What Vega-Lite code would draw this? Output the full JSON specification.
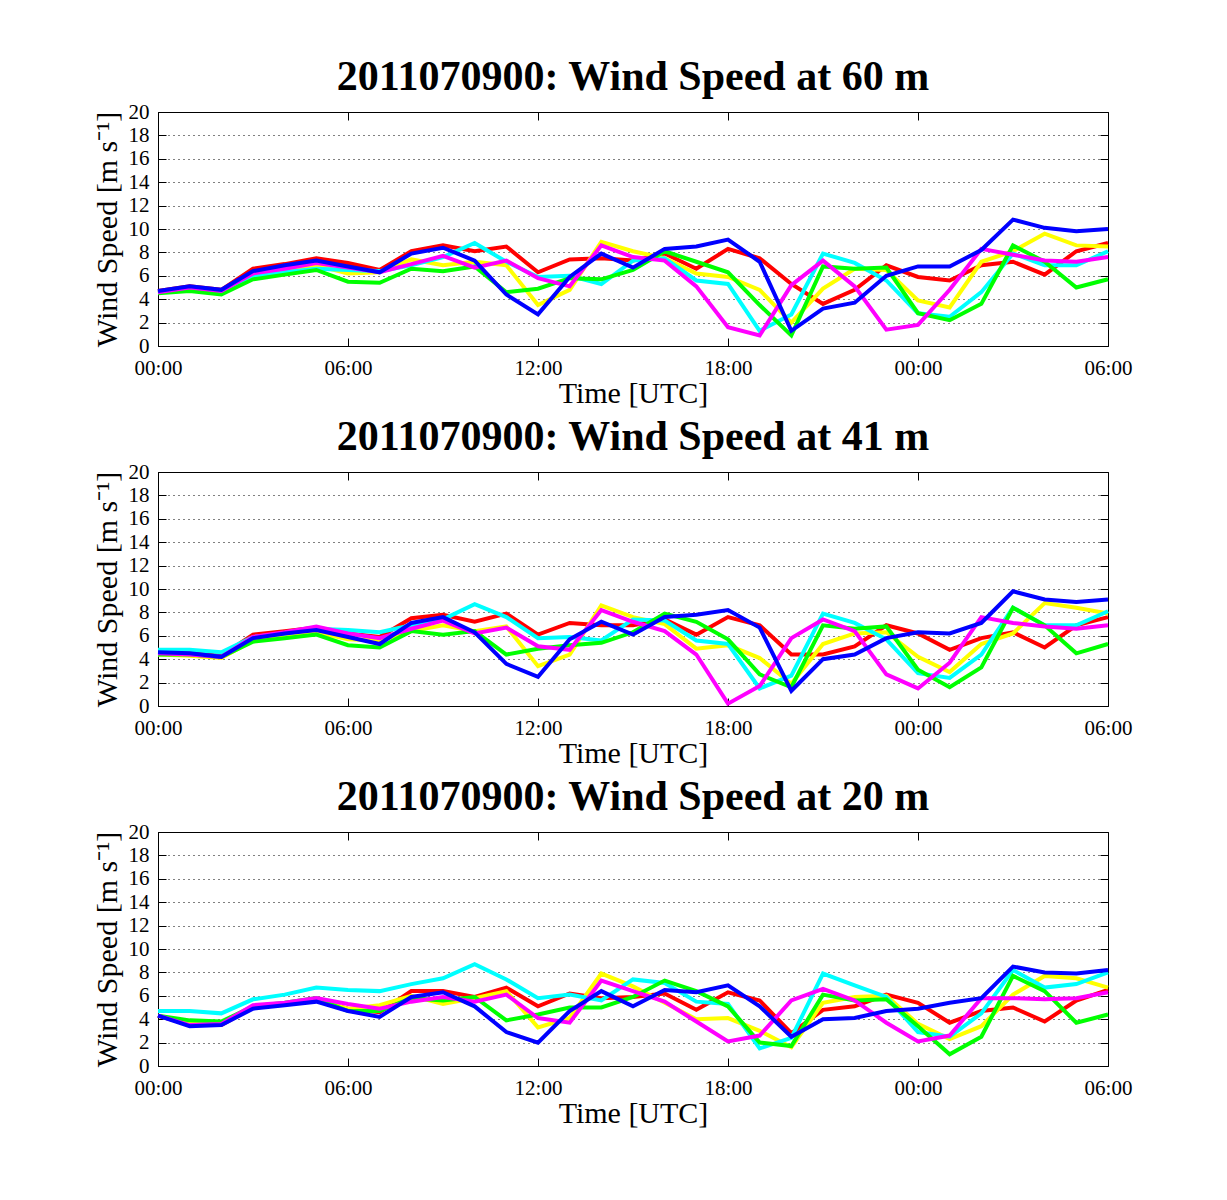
{
"$schema": "https://vega.github.io/schema/vega-lite/v6.json",
"background": "white",
"padding": {"left": 91, "top": 55, "right": 10, "bottom": 10},
"spacing": 6,
"config": {
  "font": "Liberation Serif",
  "view": {"stroke": "black", "strokeWidth": 1},
  "title": {"font": "Liberation Serif", "fontSize": 42, "fontWeight": "bold", "color": "black", "baseline": "alphabetic", "offset": 2, "anchor": "middle"},
  "axis": {"labelFont": "Liberation Serif", "labelFontSize": 21, "labelColor": "black", "titleFont": "Liberation Serif", "titleFontSize": 30, "titleFontWeight": "normal", "titleColor": "black", "tickColor": "black", "domainColor": "black", "gridColor": "black", "gridOpacity": 1, "gridWidth": 1, "gridDash": [1, 4], "labelOverlap": false}
},
"datasets": {
"w60": [
{"t":0,"s":"r","v":4.7},{"t":1,"s":"r","v":5.1},{"t":2,"s":"r","v":4.8},{"t":3,"s":"r","v":6.6},{"t":4,"s":"r","v":7.0},{"t":5,"s":"r","v":7.5},{"t":6,"s":"r","v":7.1},{"t":7,"s":"r","v":6.5},{"t":8,"s":"r","v":8.1},{"t":9,"s":"r","v":8.6},{"t":10,"s":"r","v":8.1},{"t":11,"s":"r","v":8.5},{"t":12,"s":"r","v":6.3},{"t":13,"s":"r","v":7.4},{"t":14,"s":"r","v":7.5},{"t":15,"s":"r","v":7.3},{"t":16,"s":"r","v":7.9},{"t":17,"s":"r","v":6.6},{"t":18,"s":"r","v":8.3},{"t":19,"s":"r","v":7.5},{"t":20,"s":"r","v":5.3},{"t":21,"s":"r","v":3.6},{"t":22,"s":"r","v":4.8},{"t":23,"s":"r","v":6.9},{"t":24,"s":"r","v":5.9},{"t":25,"s":"r","v":5.6},{"t":26,"s":"r","v":6.9},{"t":27,"s":"r","v":7.2},{"t":28,"s":"r","v":6.1},{"t":29,"s":"r","v":8.1},{"t":30,"s":"r","v":8.8},
{"t":0,"s":"y","v":4.6},{"t":1,"s":"y","v":4.9},{"t":2,"s":"y","v":4.6},{"t":3,"s":"y","v":6.0},{"t":4,"s":"y","v":6.4},{"t":5,"s":"y","v":6.9},{"t":6,"s":"y","v":6.2},{"t":7,"s":"y","v":6.3},{"t":8,"s":"y","v":7.4},{"t":9,"s":"y","v":6.9},{"t":10,"s":"y","v":7.2},{"t":11,"s":"y","v":6.9},{"t":12,"s":"y","v":3.5},{"t":13,"s":"y","v":4.8},{"t":14,"s":"y","v":8.9},{"t":15,"s":"y","v":8.1},{"t":16,"s":"y","v":7.5},{"t":17,"s":"y","v":6.2},{"t":18,"s":"y","v":5.9},{"t":19,"s":"y","v":4.8},{"t":20,"s":"y","v":2.0},{"t":21,"s":"y","v":4.9},{"t":22,"s":"y","v":6.6},{"t":23,"s":"y","v":6.5},{"t":24,"s":"y","v":3.9},{"t":25,"s":"y","v":3.3},{"t":26,"s":"y","v":7.2},{"t":27,"s":"y","v":8.1},{"t":28,"s":"y","v":9.6},{"t":29,"s":"y","v":8.6},{"t":30,"s":"y","v":8.5},
{"t":0,"s":"c","v":4.6},{"t":1,"s":"c","v":5.0},{"t":2,"s":"c","v":4.6},{"t":3,"s":"c","v":5.9},{"t":4,"s":"c","v":6.3},{"t":5,"s":"c","v":6.6},{"t":6,"s":"c","v":6.5},{"t":7,"s":"c","v":6.4},{"t":8,"s":"c","v":6.9},{"t":9,"s":"c","v":7.6},{"t":10,"s":"c","v":8.8},{"t":11,"s":"c","v":7.2},{"t":12,"s":"c","v":5.9},{"t":13,"s":"c","v":6.0},{"t":14,"s":"c","v":5.3},{"t":15,"s":"c","v":7.3},{"t":16,"s":"c","v":7.5},{"t":17,"s":"c","v":5.6},{"t":18,"s":"c","v":5.3},{"t":19,"s":"c","v":1.3},{"t":20,"s":"c","v":2.7},{"t":21,"s":"c","v":7.9},{"t":22,"s":"c","v":7.1},{"t":23,"s":"c","v":5.6},{"t":24,"s":"c","v":2.8},{"t":25,"s":"c","v":2.5},{"t":26,"s":"c","v":4.6},{"t":27,"s":"c","v":7.9},{"t":28,"s":"c","v":6.9},{"t":29,"s":"c","v":6.9},{"t":30,"s":"c","v":8.1},
{"t":0,"s":"g","v":4.5},{"t":1,"s":"g","v":4.7},{"t":2,"s":"g","v":4.4},{"t":3,"s":"g","v":5.7},{"t":4,"s":"g","v":6.1},{"t":5,"s":"g","v":6.5},{"t":6,"s":"g","v":5.5},{"t":7,"s":"g","v":5.4},{"t":8,"s":"g","v":6.6},{"t":9,"s":"g","v":6.4},{"t":10,"s":"g","v":6.8},{"t":11,"s":"g","v":4.6},{"t":12,"s":"g","v":4.9},{"t":13,"s":"g","v":5.8},{"t":14,"s":"g","v":5.7},{"t":15,"s":"g","v":6.5},{"t":16,"s":"g","v":8.1},{"t":17,"s":"g","v":7.2},{"t":18,"s":"g","v":6.3},{"t":19,"s":"g","v":3.5},{"t":20,"s":"g","v":0.9},{"t":21,"s":"g","v":6.8},{"t":22,"s":"g","v":6.6},{"t":23,"s":"g","v":6.7},{"t":24,"s":"g","v":2.8},{"t":25,"s":"g","v":2.2},{"t":26,"s":"g","v":3.6},{"t":27,"s":"g","v":8.6},{"t":28,"s":"g","v":7.2},{"t":29,"s":"g","v":5.0},{"t":30,"s":"g","v":5.7},
{"t":0,"s":"m","v":4.6},{"t":1,"s":"m","v":5.0},{"t":2,"s":"m","v":4.7},{"t":3,"s":"m","v":6.2},{"t":4,"s":"m","v":6.6},{"t":5,"s":"m","v":7.1},{"t":6,"s":"m","v":6.7},{"t":7,"s":"m","v":6.3},{"t":8,"s":"m","v":7.0},{"t":9,"s":"m","v":7.7},{"t":10,"s":"m","v":6.7},{"t":11,"s":"m","v":7.3},{"t":12,"s":"m","v":5.8},{"t":13,"s":"m","v":5.1},{"t":14,"s":"m","v":8.6},{"t":15,"s":"m","v":7.6},{"t":16,"s":"m","v":7.3},{"t":17,"s":"m","v":5.1},{"t":18,"s":"m","v":1.6},{"t":19,"s":"m","v":0.9},{"t":20,"s":"m","v":5.2},{"t":21,"s":"m","v":7.3},{"t":22,"s":"m","v":5.1},{"t":23,"s":"m","v":1.4},{"t":24,"s":"m","v":1.8},{"t":25,"s":"m","v":4.8},{"t":26,"s":"m","v":8.3},{"t":27,"s":"m","v":7.8},{"t":28,"s":"m","v":7.3},{"t":29,"s":"m","v":7.2},{"t":30,"s":"m","v":7.6},
{"t":0,"s":"b","v":4.7},{"t":1,"s":"b","v":5.1},{"t":2,"s":"b","v":4.8},{"t":3,"s":"b","v":6.4},{"t":4,"s":"b","v":6.9},{"t":5,"s":"b","v":7.3},{"t":6,"s":"b","v":6.8},{"t":7,"s":"b","v":6.3},{"t":8,"s":"b","v":7.9},{"t":9,"s":"b","v":8.4},{"t":10,"s":"b","v":7.3},{"t":11,"s":"b","v":4.4},{"t":12,"s":"b","v":2.7},{"t":13,"s":"b","v":5.9},{"t":14,"s":"b","v":7.9},{"t":15,"s":"b","v":6.7},{"t":16,"s":"b","v":8.3},{"t":17,"s":"b","v":8.5},{"t":18,"s":"b","v":9.1},{"t":19,"s":"b","v":7.2},{"t":20,"s":"b","v":1.3},{"t":21,"s":"b","v":3.2},{"t":22,"s":"b","v":3.7},{"t":23,"s":"b","v":6.0},{"t":24,"s":"b","v":6.8},{"t":25,"s":"b","v":6.8},{"t":26,"s":"b","v":8.2},{"t":27,"s":"b","v":10.8},{"t":28,"s":"b","v":10.1},{"t":29,"s":"b","v":9.8},{"t":30,"s":"b","v":10.0}
],
"w41": [
{"t":0,"s":"r","v":4.5},{"t":1,"s":"r","v":4.5},{"t":2,"s":"r","v":4.3},{"t":3,"s":"r","v":6.1},{"t":4,"s":"r","v":6.4},{"t":5,"s":"r","v":6.7},{"t":6,"s":"r","v":6.2},{"t":7,"s":"r","v":5.9},{"t":8,"s":"r","v":7.5},{"t":9,"s":"r","v":7.8},{"t":10,"s":"r","v":7.2},{"t":11,"s":"r","v":7.9},{"t":12,"s":"r","v":6.1},{"t":13,"s":"r","v":7.1},{"t":14,"s":"r","v":6.9},{"t":15,"s":"r","v":6.9},{"t":16,"s":"r","v":7.4},{"t":17,"s":"r","v":6.1},{"t":18,"s":"r","v":7.6},{"t":19,"s":"r","v":6.9},{"t":20,"s":"r","v":4.4},{"t":21,"s":"r","v":4.4},{"t":22,"s":"r","v":5.1},{"t":23,"s":"r","v":6.9},{"t":24,"s":"r","v":6.2},{"t":25,"s":"r","v":4.8},{"t":26,"s":"r","v":5.8},{"t":27,"s":"r","v":6.3},{"t":28,"s":"r","v":5.0},{"t":29,"s":"r","v":6.9},{"t":30,"s":"r","v":7.6},
{"t":0,"s":"y","v":4.4},{"t":1,"s":"y","v":4.3},{"t":2,"s":"y","v":4.1},{"t":3,"s":"y","v":5.6},{"t":4,"s":"y","v":6.0},{"t":5,"s":"y","v":6.3},{"t":6,"s":"y","v":5.7},{"t":7,"s":"y","v":5.6},{"t":8,"s":"y","v":6.4},{"t":9,"s":"y","v":6.9},{"t":10,"s":"y","v":6.4},{"t":11,"s":"y","v":6.8},{"t":12,"s":"y","v":3.4},{"t":13,"s":"y","v":4.4},{"t":14,"s":"y","v":8.6},{"t":15,"s":"y","v":7.6},{"t":16,"s":"y","v":7.0},{"t":17,"s":"y","v":4.9},{"t":18,"s":"y","v":5.2},{"t":19,"s":"y","v":4.1},{"t":20,"s":"y","v":1.9},{"t":21,"s":"y","v":5.3},{"t":22,"s":"y","v":6.2},{"t":23,"s":"y","v":6.3},{"t":24,"s":"y","v":4.2},{"t":25,"s":"y","v":2.9},{"t":26,"s":"y","v":5.3},{"t":27,"s":"y","v":6.2},{"t":28,"s":"y","v":8.8},{"t":29,"s":"y","v":8.4},{"t":30,"s":"y","v":7.9},
{"t":0,"s":"c","v":4.8},{"t":1,"s":"c","v":4.8},{"t":2,"s":"c","v":4.6},{"t":3,"s":"c","v":5.9},{"t":4,"s":"c","v":6.2},{"t":5,"s":"c","v":6.6},{"t":6,"s":"c","v":6.5},{"t":7,"s":"c","v":6.3},{"t":8,"s":"c","v":6.9},{"t":9,"s":"c","v":7.4},{"t":10,"s":"c","v":8.7},{"t":11,"s":"c","v":7.6},{"t":12,"s":"c","v":5.8},{"t":13,"s":"c","v":5.9},{"t":14,"s":"c","v":5.6},{"t":15,"s":"c","v":7.4},{"t":16,"s":"c","v":7.3},{"t":17,"s":"c","v":5.6},{"t":18,"s":"c","v":5.3},{"t":19,"s":"c","v":1.5},{"t":20,"s":"c","v":2.6},{"t":21,"s":"c","v":7.9},{"t":22,"s":"c","v":7.1},{"t":23,"s":"c","v":5.7},{"t":24,"s":"c","v":2.8},{"t":25,"s":"c","v":2.4},{"t":26,"s":"c","v":4.4},{"t":27,"s":"c","v":8.4},{"t":28,"s":"c","v":6.9},{"t":29,"s":"c","v":6.9},{"t":30,"s":"c","v":8.1},
{"t":0,"s":"g","v":4.4},{"t":1,"s":"g","v":4.4},{"t":2,"s":"g","v":4.2},{"t":3,"s":"g","v":5.5},{"t":4,"s":"g","v":5.8},{"t":5,"s":"g","v":6.1},{"t":6,"s":"g","v":5.2},{"t":7,"s":"g","v":5.0},{"t":8,"s":"g","v":6.4},{"t":9,"s":"g","v":6.1},{"t":10,"s":"g","v":6.4},{"t":11,"s":"g","v":4.4},{"t":12,"s":"g","v":4.9},{"t":13,"s":"g","v":5.2},{"t":14,"s":"g","v":5.4},{"t":15,"s":"g","v":6.3},{"t":16,"s":"g","v":7.9},{"t":17,"s":"g","v":7.2},{"t":18,"s":"g","v":5.7},{"t":19,"s":"g","v":2.7},{"t":20,"s":"g","v":1.6},{"t":21,"s":"g","v":6.9},{"t":22,"s":"g","v":6.6},{"t":23,"s":"g","v":6.8},{"t":24,"s":"g","v":3.1},{"t":25,"s":"g","v":1.6},{"t":26,"s":"g","v":3.3},{"t":27,"s":"g","v":8.4},{"t":28,"s":"g","v":6.9},{"t":29,"s":"g","v":4.5},{"t":30,"s":"g","v":5.3},
{"t":0,"s":"m","v":4.5},{"t":1,"s":"m","v":4.4},{"t":2,"s":"m","v":4.2},{"t":3,"s":"m","v":5.9},{"t":4,"s":"m","v":6.3},{"t":5,"s":"m","v":6.8},{"t":6,"s":"m","v":6.2},{"t":7,"s":"m","v":5.8},{"t":8,"s":"m","v":6.6},{"t":9,"s":"m","v":7.3},{"t":10,"s":"m","v":6.2},{"t":11,"s":"m","v":6.7},{"t":12,"s":"m","v":5.1},{"t":13,"s":"m","v":4.8},{"t":14,"s":"m","v":8.2},{"t":15,"s":"m","v":7.2},{"t":16,"s":"m","v":6.4},{"t":17,"s":"m","v":4.4},{"t":18,"s":"m","v":0.2},{"t":19,"s":"m","v":1.7},{"t":20,"s":"m","v":5.8},{"t":21,"s":"m","v":7.4},{"t":22,"s":"m","v":6.4},{"t":23,"s":"m","v":2.7},{"t":24,"s":"m","v":1.5},{"t":25,"s":"m","v":3.7},{"t":26,"s":"m","v":7.6},{"t":27,"s":"m","v":7.1},{"t":28,"s":"m","v":6.8},{"t":29,"s":"m","v":6.6},{"t":30,"s":"m","v":6.9},
{"t":0,"s":"b","v":4.6},{"t":1,"s":"b","v":4.5},{"t":2,"s":"b","v":4.2},{"t":3,"s":"b","v":5.8},{"t":4,"s":"b","v":6.2},{"t":5,"s":"b","v":6.5},{"t":6,"s":"b","v":5.9},{"t":7,"s":"b","v":5.3},{"t":8,"s":"b","v":7.1},{"t":9,"s":"b","v":7.6},{"t":10,"s":"b","v":6.3},{"t":11,"s":"b","v":3.6},{"t":12,"s":"b","v":2.5},{"t":13,"s":"b","v":5.7},{"t":14,"s":"b","v":7.2},{"t":15,"s":"b","v":6.1},{"t":16,"s":"b","v":7.6},{"t":17,"s":"b","v":7.8},{"t":18,"s":"b","v":8.2},{"t":19,"s":"b","v":6.7},{"t":20,"s":"b","v":1.3},{"t":21,"s":"b","v":4.0},{"t":22,"s":"b","v":4.4},{"t":23,"s":"b","v":5.8},{"t":24,"s":"b","v":6.3},{"t":25,"s":"b","v":6.2},{"t":26,"s":"b","v":7.1},{"t":27,"s":"b","v":9.8},{"t":28,"s":"b","v":9.1},{"t":29,"s":"b","v":8.9},{"t":30,"s":"b","v":9.1}
],
"w20": [
{"t":0,"s":"r","v":4.3},{"t":1,"s":"r","v":3.5},{"t":2,"s":"r","v":3.5},{"t":3,"s":"r","v":5.0},{"t":4,"s":"r","v":5.3},{"t":5,"s":"r","v":5.6},{"t":6,"s":"r","v":4.9},{"t":7,"s":"r","v":4.6},{"t":8,"s":"r","v":6.4},{"t":9,"s":"r","v":6.4},{"t":10,"s":"r","v":5.9},{"t":11,"s":"r","v":6.7},{"t":12,"s":"r","v":5.1},{"t":13,"s":"r","v":6.2},{"t":14,"s":"r","v":5.8},{"t":15,"s":"r","v":5.9},{"t":16,"s":"r","v":6.2},{"t":17,"s":"r","v":4.8},{"t":18,"s":"r","v":6.3},{"t":19,"s":"r","v":5.6},{"t":20,"s":"r","v":2.8},{"t":21,"s":"r","v":4.8},{"t":22,"s":"r","v":5.1},{"t":23,"s":"r","v":6.1},{"t":24,"s":"r","v":5.4},{"t":25,"s":"r","v":3.7},{"t":26,"s":"r","v":4.7},{"t":27,"s":"r","v":5.0},{"t":28,"s":"r","v":3.8},{"t":29,"s":"r","v":5.6},{"t":30,"s":"r","v":6.5},
{"t":0,"s":"y","v":4.3},{"t":1,"s":"y","v":3.6},{"t":2,"s":"y","v":3.6},{"t":3,"s":"y","v":5.0},{"t":4,"s":"y","v":5.3},{"t":5,"s":"y","v":5.6},{"t":6,"s":"y","v":4.9},{"t":7,"s":"y","v":5.2},{"t":8,"s":"y","v":6.0},{"t":9,"s":"y","v":5.3},{"t":10,"s":"y","v":5.8},{"t":11,"s":"y","v":6.4},{"t":12,"s":"y","v":3.3},{"t":13,"s":"y","v":4.1},{"t":14,"s":"y","v":7.9},{"t":15,"s":"y","v":6.8},{"t":16,"s":"y","v":5.4},{"t":17,"s":"y","v":4.0},{"t":18,"s":"y","v":4.1},{"t":19,"s":"y","v":3.0},{"t":20,"s":"y","v":1.6},{"t":21,"s":"y","v":5.4},{"t":22,"s":"y","v":5.9},{"t":23,"s":"y","v":6.0},{"t":24,"s":"y","v":3.6},{"t":25,"s":"y","v":2.3},{"t":26,"s":"y","v":3.4},{"t":27,"s":"y","v":6.1},{"t":28,"s":"y","v":7.7},{"t":29,"s":"y","v":7.5},{"t":30,"s":"y","v":6.7},
{"t":0,"s":"c","v":4.7},{"t":1,"s":"c","v":4.7},{"t":2,"s":"c","v":4.5},{"t":3,"s":"c","v":5.7},{"t":4,"s":"c","v":6.1},{"t":5,"s":"c","v":6.7},{"t":6,"s":"c","v":6.5},{"t":7,"s":"c","v":6.4},{"t":8,"s":"c","v":7.0},{"t":9,"s":"c","v":7.5},{"t":10,"s":"c","v":8.7},{"t":11,"s":"c","v":7.4},{"t":12,"s":"c","v":5.8},{"t":13,"s":"c","v":6.1},{"t":14,"s":"c","v":5.6},{"t":15,"s":"c","v":7.4},{"t":16,"s":"c","v":7.1},{"t":17,"s":"c","v":5.5},{"t":18,"s":"c","v":5.3},{"t":19,"s":"c","v":1.5},{"t":20,"s":"c","v":2.4},{"t":21,"s":"c","v":7.9},{"t":22,"s":"c","v":6.9},{"t":23,"s":"c","v":5.9},{"t":24,"s":"c","v":2.9},{"t":25,"s":"c","v":2.5},{"t":26,"s":"c","v":4.5},{"t":27,"s":"c","v":8.2},{"t":28,"s":"c","v":6.7},{"t":29,"s":"c","v":7.0},{"t":30,"s":"c","v":8.0},
{"t":0,"s":"g","v":4.3},{"t":1,"s":"g","v":3.9},{"t":2,"s":"g","v":3.8},{"t":3,"s":"g","v":5.1},{"t":4,"s":"g","v":5.4},{"t":5,"s":"g","v":5.8},{"t":6,"s":"g","v":4.7},{"t":7,"s":"g","v":4.7},{"t":8,"s":"g","v":5.8},{"t":9,"s":"g","v":5.6},{"t":10,"s":"g","v":5.9},{"t":11,"s":"g","v":3.9},{"t":12,"s":"g","v":4.4},{"t":13,"s":"g","v":5.0},{"t":14,"s":"g","v":5.0},{"t":15,"s":"g","v":5.9},{"t":16,"s":"g","v":7.3},{"t":17,"s":"g","v":6.4},{"t":18,"s":"g","v":5.1},{"t":19,"s":"g","v":2.0},{"t":20,"s":"g","v":1.7},{"t":21,"s":"g","v":6.1},{"t":22,"s":"g","v":5.6},{"t":23,"s":"g","v":5.7},{"t":24,"s":"g","v":3.4},{"t":25,"s":"g","v":1.0},{"t":26,"s":"g","v":2.5},{"t":27,"s":"g","v":7.7},{"t":28,"s":"g","v":6.4},{"t":29,"s":"g","v":3.7},{"t":30,"s":"g","v":4.4},
{"t":0,"s":"m","v":4.3},{"t":1,"s":"m","v":3.5},{"t":2,"s":"m","v":3.6},{"t":3,"s":"m","v":5.2},{"t":4,"s":"m","v":5.4},{"t":5,"s":"m","v":5.8},{"t":6,"s":"m","v":5.3},{"t":7,"s":"m","v":4.9},{"t":8,"s":"m","v":5.5},{"t":9,"s":"m","v":5.9},{"t":10,"s":"m","v":5.5},{"t":11,"s":"m","v":6.1},{"t":12,"s":"m","v":4.1},{"t":13,"s":"m","v":3.7},{"t":14,"s":"m","v":7.3},{"t":15,"s":"m","v":6.4},{"t":16,"s":"m","v":5.5},{"t":17,"s":"m","v":3.8},{"t":18,"s":"m","v":2.1},{"t":19,"s":"m","v":2.6},{"t":20,"s":"m","v":5.6},{"t":21,"s":"m","v":6.6},{"t":22,"s":"m","v":5.6},{"t":23,"s":"m","v":3.7},{"t":24,"s":"m","v":2.1},{"t":25,"s":"m","v":2.6},{"t":26,"s":"m","v":5.8},{"t":27,"s":"m","v":5.8},{"t":28,"s":"m","v":5.7},{"t":29,"s":"m","v":5.8},{"t":30,"s":"m","v":6.3},
{"t":0,"s":"b","v":4.3},{"t":1,"s":"b","v":3.4},{"t":2,"s":"b","v":3.5},{"t":3,"s":"b","v":4.9},{"t":4,"s":"b","v":5.2},{"t":5,"s":"b","v":5.5},{"t":6,"s":"b","v":4.7},{"t":7,"s":"b","v":4.2},{"t":8,"s":"b","v":5.9},{"t":9,"s":"b","v":6.3},{"t":10,"s":"b","v":5.1},{"t":11,"s":"b","v":2.9},{"t":12,"s":"b","v":2.0},{"t":13,"s":"b","v":4.7},{"t":14,"s":"b","v":6.4},{"t":15,"s":"b","v":5.1},{"t":16,"s":"b","v":6.5},{"t":17,"s":"b","v":6.3},{"t":18,"s":"b","v":6.9},{"t":19,"s":"b","v":5.1},{"t":20,"s":"b","v":2.5},{"t":21,"s":"b","v":4.0},{"t":22,"s":"b","v":4.1},{"t":23,"s":"b","v":4.7},{"t":24,"s":"b","v":4.9},{"t":25,"s":"b","v":5.4},{"t":26,"s":"b","v":5.8},{"t":27,"s":"b","v":8.5},{"t":28,"s":"b","v":8.0},{"t":29,"s":"b","v":7.9},{"t":30,"s":"b","v":8.2}
]
},
"vconcat": [
{
 "title": "2011070900: Wind Speed at 60 m",
 "width": 950, "height": 234,
 "data": {"name": "w60"},
 "layer": [
  {"mark": {"type": "line", "strokeOpacity": 0},
   "encoding": {
    "x": {"field": "t", "type": "quantitative", "scale": {"domain": [0, 30], "nice": false, "zero": false}, "axis": {"orient": "top", "labels": false, "title": null, "grid": false, "domain": false, "values": [0, 6, 12, 18, 24, 30], "tickSize": -8}},
    "y": {"field": "v", "type": "quantitative", "scale": {"domain": [0, 20], "nice": false}, "axis": {"orient": "right", "labels": false, "title": null, "grid": false, "domain": false, "values": [0, 2, 4, 6, 8, 10, 12, 14, 16, 18, 20], "tickSize": -8}},
    "detail": {"field": "s"}}},
  {"mark": {"type": "line", "strokeWidth": 4},
   "encoding": {
    "x": {"field": "t", "type": "quantitative", "scale": {"domain": [0, 30], "nice": false, "zero": false}, "axis": {"orient": "bottom", "title": "Time [UTC]", "grid": false, "domain": false, "values": [0, 6, 12, 18, 24, 30], "labelExpr": "(datum.value % 24 < 10 ? '0' : '') + (datum.value % 24) + ':00'", "labelFlush": false, "tickSize": -8, "labelPadding": 19, "titlePadding": 0}},
    "y": {"field": "v", "type": "quantitative", "scale": {"domain": [0, 20], "nice": false}, "axis": {"orient": "left", "title": "Wind Speed [m s\u207b\u00b9]", "grid": true, "domain": false, "values": [0, 2, 4, 6, 8, 10, 12, 14, 16, 18, 20], "tickSize": -8, "labelPadding": 17, "titlePadding": 6}},
    "color": {"field": "s", "type": "nominal", "scale": {"domain": ["r", "y", "c", "g", "m", "b"], "range": ["#ff0000", "#ffff00", "#00ffff", "#00ff00", "#ff00ff", "#0000ff"]}, "legend": null}}}
 ],
 "resolve": {"axis": {"x": "independent", "y": "independent"}}
},
{
 "title": "2011070900: Wind Speed at 41 m",
 "width": 950, "height": 234,
 "data": {"name": "w41"},
 "layer": [
  {"mark": {"type": "line", "strokeOpacity": 0},
   "encoding": {
    "x": {"field": "t", "type": "quantitative", "scale": {"domain": [0, 30], "nice": false, "zero": false}, "axis": {"orient": "top", "labels": false, "title": null, "grid": false, "domain": false, "values": [0, 6, 12, 18, 24, 30], "tickSize": -8}},
    "y": {"field": "v", "type": "quantitative", "scale": {"domain": [0, 20], "nice": false}, "axis": {"orient": "right", "labels": false, "title": null, "grid": false, "domain": false, "values": [0, 2, 4, 6, 8, 10, 12, 14, 16, 18, 20], "tickSize": -8}},
    "detail": {"field": "s"}}},
  {"mark": {"type": "line", "strokeWidth": 4},
   "encoding": {
    "x": {"field": "t", "type": "quantitative", "scale": {"domain": [0, 30], "nice": false, "zero": false}, "axis": {"orient": "bottom", "title": "Time [UTC]", "grid": false, "domain": false, "values": [0, 6, 12, 18, 24, 30], "labelExpr": "(datum.value % 24 < 10 ? '0' : '') + (datum.value % 24) + ':00'", "labelFlush": false, "tickSize": -8, "labelPadding": 19, "titlePadding": 0}},
    "y": {"field": "v", "type": "quantitative", "scale": {"domain": [0, 20], "nice": false}, "axis": {"orient": "left", "title": "Wind Speed [m s\u207b\u00b9]", "grid": true, "domain": false, "values": [0, 2, 4, 6, 8, 10, 12, 14, 16, 18, 20], "tickSize": -8, "labelPadding": 17, "titlePadding": 6}},
    "color": {"field": "s", "type": "nominal", "scale": {"domain": ["r", "y", "c", "g", "m", "b"], "range": ["#ff0000", "#ffff00", "#00ffff", "#00ff00", "#ff00ff", "#0000ff"]}, "legend": null}}}
 ],
 "resolve": {"axis": {"x": "independent", "y": "independent"}}
},
{
 "title": "2011070900: Wind Speed at 20 m",
 "width": 950, "height": 234,
 "data": {"name": "w20"},
 "layer": [
  {"mark": {"type": "line", "strokeOpacity": 0},
   "encoding": {
    "x": {"field": "t", "type": "quantitative", "scale": {"domain": [0, 30], "nice": false, "zero": false}, "axis": {"orient": "top", "labels": false, "title": null, "grid": false, "domain": false, "values": [0, 6, 12, 18, 24, 30], "tickSize": -8}},
    "y": {"field": "v", "type": "quantitative", "scale": {"domain": [0, 20], "nice": false}, "axis": {"orient": "right", "labels": false, "title": null, "grid": false, "domain": false, "values": [0, 2, 4, 6, 8, 10, 12, 14, 16, 18, 20], "tickSize": -8}},
    "detail": {"field": "s"}}},
  {"mark": {"type": "line", "strokeWidth": 4},
   "encoding": {
    "x": {"field": "t", "type": "quantitative", "scale": {"domain": [0, 30], "nice": false, "zero": false}, "axis": {"orient": "bottom", "title": "Time [UTC]", "grid": false, "domain": false, "values": [0, 6, 12, 18, 24, 30], "labelExpr": "(datum.value % 24 < 10 ? '0' : '') + (datum.value % 24) + ':00'", "labelFlush": false, "tickSize": -8, "labelPadding": 19, "titlePadding": 0}},
    "y": {"field": "v", "type": "quantitative", "scale": {"domain": [0, 20], "nice": false}, "axis": {"orient": "left", "title": "Wind Speed [m s\u207b\u00b9]", "grid": true, "domain": false, "values": [0, 2, 4, 6, 8, 10, 12, 14, 16, 18, 20], "tickSize": -8, "labelPadding": 17, "titlePadding": 6}},
    "color": {"field": "s", "type": "nominal", "scale": {"domain": ["r", "y", "c", "g", "m", "b"], "range": ["#ff0000", "#ffff00", "#00ffff", "#00ff00", "#ff00ff", "#0000ff"]}, "legend": null}}}
 ],
 "resolve": {"axis": {"x": "independent", "y": "independent"}}
}
]
}
